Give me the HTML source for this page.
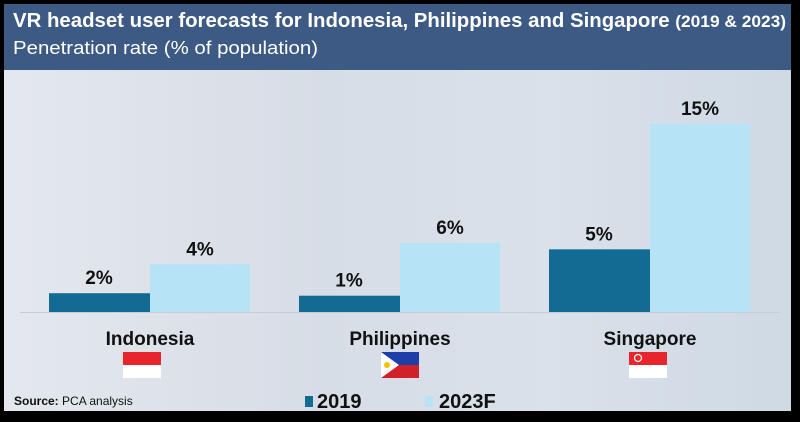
<!DOCTYPE html>
<html><head><meta charset="utf-8"><style>
body{margin:0;width:800px;height:422px;background:#000;overflow:hidden;font-family:"Liberation Sans",sans-serif}
#panel{position:absolute;left:4px;top:4px;width:787px;height:407px;background:linear-gradient(90deg,#e4e8ee,#d7dde6 40%,#d9e1ea 70%,#cfd9e4);overflow:hidden}
#hdr{position:absolute;left:0;top:0;width:787px;height:66px;background:#3c5a84}
</style></head><body>
<div id="panel">
<div id="hdr"></div>
</div>
<svg id="c" width="800" height="422" style="position:absolute;left:0;top:0">
<text x="13" y="27" font-size="20" font-weight="bold" fill="#fff" textLength="773" lengthAdjust="spacingAndGlyphs">VR headset user forecasts for Indonesia, Philippines and Singapore <tspan font-size="17">(2019 &amp; 2023)</tspan></text>
<text x="13" y="54" font-size="18" fill="#fff" textLength="305" lengthAdjust="spacingAndGlyphs">Penetration rate (% of population)</text>
</svg>
<script>
const categories=["Indonesia","Philippines","Singapore"];
const v2019=[1.5,1.3,5.0];
const v2023=[3.8,5.5,15];
const labels2019=["2%","1%","5%"];
const labels2023=["4%","6%","15%"];
const NS="http://www.w3.org/2000/svg";
const svg=document.getElementById('c');
const base=312,pxPer=188/15;
const y=v=>base-v*pxPer;
const gx=i=>49+i*250;
function mk(t,a,txt){const e=document.createElementNS(NS,t);for(const k in a)e.setAttribute(k,a[k]);if(txt!=null)e.textContent=txt;svg.appendChild(e);return e;}
mk('line',{x1:20,x2:780,y1:312.5,y2:312.5,stroke:'#c8cdd3','stroke-width':1});
categories.forEach((c,i)=>{
 const x=gx(i);
 let r=mk('rect',{x:x,y:y(v2019[i]),width:101,height:base-y(v2019[i]),fill:'#136b93'});
 
 
 r=mk('rect',{x:x+101,y:y(v2023[i]),width:100,height:base-y(v2023[i]),fill:'#b6e3f6'});
 
 
 let t=mk('text',{x:x+50,y:y(v2019[i])-9,'text-anchor':'middle','font-size':19,'font-weight':'bold',fill:'#111'},labels2019[i]);
 
 
 t=mk('text',{x:x+151,y:y(v2023[i])-9,'text-anchor':'middle','font-size':19,'font-weight':'bold',fill:'#111'},labels2023[i]);
 
 
 t=mk('text',{x:x+101,y:345,'text-anchor':'middle','font-size':19,'font-weight':'bold',fill:'#111'},c);
 
 
});
function flag(cx,type){
 const x=cx-19,yy=352;
 const g=document.createElementNS(NS,'g');svg.appendChild(g);
 
 
 const add=(t,a)=>{const e=document.createElementNS(NS,t);for(const k in a)e.setAttribute(k,a[k]);g.appendChild(e);};
 if(type==='philippines'){add('rect',{x:x,y:yy,width:38,height:13,fill:'#1f3fa8'});add('rect',{x:x,y:yy+13,width:38,height:13,fill:'#d2202a'});add('polygon',{points:`${x},${yy} ${x+18},${yy+13} ${x},${yy+26}`,fill:'#fff'});add('circle',{cx:x+6,cy:yy+13,r:3,fill:'#f5c400'});}
 else{add('rect',{x:x,y:yy,width:38,height:13,fill:'#e8242c'});add('rect',{x:x,y:yy+13,width:38,height:13,fill:'#fff'});if(type==='singapore')add('circle',{cx:x+9,cy:yy+6,r:3.5,fill:'none',stroke:'#fff','stroke-width':1.2});}
}
flag(142,'indonesia');flag(400,'philippines');flag(648,'singapore');
let s=mk('text',{x:14,y:405,'font-size':12,fill:'#111'});
s.innerHTML='<tspan font-weight="bold">Source:</tspan> PCA analysis';


let l=mk('rect',{x:305,y:396,width:8,height:11,fill:'#136b93'});


l=mk('text',{x:317,y:408,'font-size':20,'font-weight':'bold',fill:'#111'},'2019');


l=mk('rect',{x:425,y:396,width:8,height:11,fill:'#b6e3f6'});


l=mk('text',{x:439,y:408,'font-size':20,'font-weight':'bold',fill:'#111'},'2023F');


</script>
</body></html>
